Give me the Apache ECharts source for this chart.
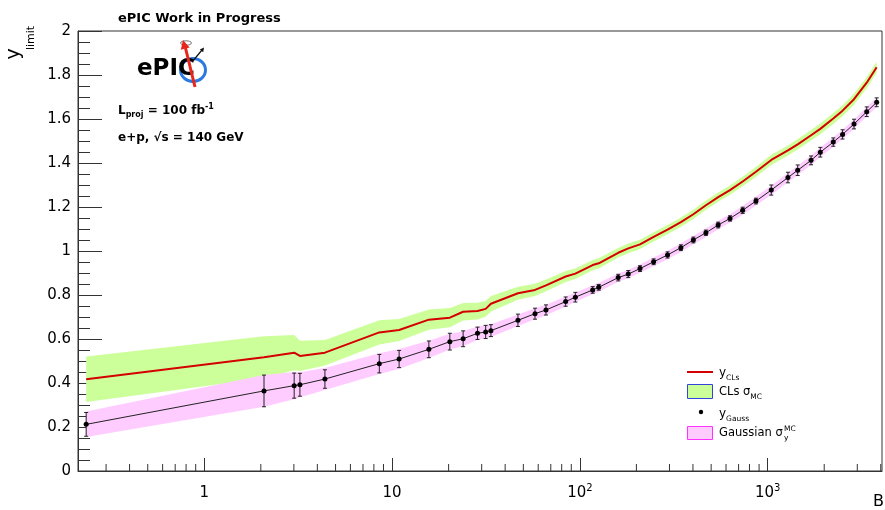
<!DOCTYPE html>
<html>
<head>
<meta charset="utf-8">
<script src="https://cdn.jsdelivr.net/npm/echarts@6/dist/echarts.min.js"></script>
<style>
  html, body { margin: 0; padding: 0; background: #fff; }
  #main { width: 885px; height: 510px; }
</style>
</head>
<body>
<div id="main"></div>
<script>
// scan points in B
var bVals = [0.235, 2.08, 3.01, 3.23, 4.39, 8.55, 10.9, 15.7, 20.3, 23.9, 28.5, 31.5, 33.6, 46.8, 57.7, 66, 84, 94.6, 117, 126,
  160, 181, 209, 247, 293, 345, 402, 469, 545, 630, 736, 866, 1045, 1282, 1445, 1702, 1906, 2235, 2505, 2882, 3368, 3805];
// y_CLs and its MC spread
var yCLs = [0.417, 0.517, 0.538, 0.523, 0.538, 0.630, 0.641, 0.688, 0.697, 0.724, 0.727, 0.737, 0.760, 0.808, 0.823, 0.844, 0.884, 0.897, 0.936, 0.944,
  0.992, 1.012, 1.030, 1.064, 1.097, 1.131, 1.167, 1.208, 1.245, 1.277, 1.316, 1.360, 1.414, 1.457, 1.485, 1.526, 1.555, 1.602, 1.638, 1.690, 1.765, 1.835];
var sigCLs = [0.103, 0.095, 0.080, 0.069, 0.058, 0.055, 0.050, 0.046, 0.044, 0.040, 0.038, 0.036, 0.035, 0.030, 0.028, 0.027, 0.025, 0.024, 0.023, 0.023,
  0.022, 0.022, 0.021, 0.021, 0.021, 0.021, 0.021, 0.021, 0.021, 0.021, 0.022, 0.022, 0.023, 0.023, 0.024, 0.024, 0.024, 0.025, 0.025, 0.025, 0.025, 0.025];
// y_Gauss points, error bars and MC spread
var yGauss = [0.212, 0.364, 0.388, 0.392, 0.418, 0.488, 0.509, 0.553, 0.588, 0.601, 0.626, 0.632, 0.638, 0.685, 0.715, 0.732, 0.770, 0.790, 0.823, 0.835,
  0.879, 0.895, 0.920, 0.951, 0.982, 1.015, 1.050, 1.083, 1.118, 1.148, 1.185, 1.227, 1.277, 1.334, 1.367, 1.412, 1.449, 1.495, 1.530, 1.577, 1.633, 1.676];
var errGauss = [0.054, 0.072, 0.057, 0.052, 0.042, 0.042, 0.039, 0.038, 0.038, 0.036, 0.028, 0.030, 0.027, 0.028, 0.025, 0.023, 0.021, 0.022, 0.015, 0.013,
  0.015, 0.016, 0.013, 0.013, 0.014, 0.013, 0.013, 0.012, 0.013, 0.012, 0.014, 0.013, 0.023, 0.024, 0.024, 0.020, 0.022, 0.019, 0.021, 0.022, 0.022, 0.020];
var sigGauss = [0.058, 0.072, 0.062, 0.057, 0.050, 0.047, 0.045, 0.039, 0.036, 0.034, 0.031, 0.030, 0.029, 0.026, 0.025, 0.024, 0.022, 0.021, 0.020, 0.020,
  0.019, 0.019, 0.019, 0.019, 0.019, 0.019, 0.019, 0.019, 0.019, 0.019, 0.020, 0.020, 0.021, 0.021, 0.021, 0.021, 0.021, 0.021, 0.021, 0.021, 0.021, 0.021];
// log axis minor ticks
var xMinorTicks = [0.3, 0.4, 0.5, 0.6, 0.7, 0.8, 0.9, 2, 3, 4, 5, 6, 7, 8, 9, 20, 30, 40, 50, 60, 70, 80, 90,
  200, 300, 400, 500, 600, 700, 800, 900, 2000, 3000, 4000];

var FONT = 'DejaVu Sans';
function rs (size, weight, va, lh) {
  var o = { fontSize: size, fontFamily: FONT, fontWeight: weight || 'normal', fill: '#000' };
  if (va) o.verticalAlign = va;
  if (lh) o.lineHeight = lh;
  return o;
}

// band between center-sigma and center+sigma, drawn as one polygon
function bandRender (center, sigma, color) {
  return function (params, api) {
    if (params.dataIndex !== 0) return null;
    var upper = [], lower = [];
    for (var i = 0; i < bVals.length; i++) {
      upper.push(api.coord([bVals[i], center[i] + sigma[i]]));
      lower.unshift(api.coord([bVals[i], center[i] - sigma[i]]));
    }
    return { type: 'polygon', shape: { points: upper.concat(lower) }, style: { fill: color } };
  };
}

var myChart = echarts.init(document.getElementById('main'));
var option = {
  animation: false,
  title: {
    text: 'ePIC Work in Progress',
    left: 113, top: 7,
    textStyle: { fontFamily: FONT, fontSize: 13, fontWeight: 'bold', color: '#000' }
  },
  grid: {
    left: 78, right: 3, top: 31, bottom: 39,
    show: true, borderColor: '#333', borderWidth: 1,
    containLabel: false, outerBoundsMode: 'none'
  },
  xAxis: {
    type: 'log', logBase: 10, min: 0.2126, max: 4062,
    axisLine: { onZero: false, lineStyle: { color: '#333', width: 1 } },
    axisTick: { inside: true, length: 13, lineStyle: { color: '#333' } },
    minorTick: { show: false },
    splitLine: { show: false },
    axisLabel: {
      margin: 12, fontFamily: FONT, fontSize: 15, lineHeight: 20, color: '#000',
      showMinLabel: false, showMaxLabel: false,
      formatter: function (v) {
        var e = Math.round(Math.log10(v));
        if (e === 0) return '1';
        if (e === 1) return '10';
        return '{b|10}{p|' + e + '}';
      },
      rich: {
        b: { fontFamily: FONT, fontSize: 15, lineHeight: 20, color: '#000' },
        p: { fontFamily: FONT, fontSize: 10, lineHeight: 10, verticalAlign: 'top', color: '#000' }
      }
    }
  },
  yAxis: {
    type: 'value', min: 0, max: 2, interval: 0.2,
    axisLine: { show: true, onZero: false, lineStyle: { color: '#333', width: 1 } },
    axisTick: { show: true, inside: true, length: 24, lineStyle: { color: '#333' } },
    minorTick: { show: true, splitNumber: 4, length: 12, lineStyle: { color: '#333' } },
    splitLine: { show: false },
    axisLabel: { margin: 7, fontFamily: FONT, fontSize: 15, color: '#000' }
  },
  series: [
    {
      name: 'CLs band', type: 'custom', z: 1, silent: true,
      data: bVals.map(function (b, i) { return [b, yCLs[i]]; }),
      encode: { x: 0, y: 1 },
      renderItem: bandRender(yCLs, sigCLs, '#ccff99')
    },
    {
      name: 'Gauss band', type: 'custom', z: 2, silent: true,
      data: bVals.map(function (b, i) { return [b, yGauss[i]]; }),
      encode: { x: 0, y: 1 },
      renderItem: bandRender(yGauss, sigGauss, '#ffccff')
    },
    {
      name: 'yGauss err', type: 'custom', z: 3, silent: true,
      data: bVals.map(function (b, i) { return [b, yGauss[i] - errGauss[i], yGauss[i] + errGauss[i]]; }),
      encode: { x: 0, y: [1, 2] },
      renderItem: function (params, api) {
        var p1 = api.coord([api.value(0), api.value(1)]);
        var p2 = api.coord([api.value(0), api.value(2)]);
        var st = { stroke: '#222', lineWidth: 1 };
        return {
          type: 'group', children: [
            { type: 'line', shape: { x1: p1[0], y1: p1[1], x2: p2[0], y2: p2[1] }, style: st },
            { type: 'line', shape: { x1: p1[0] - 2, y1: p1[1], x2: p1[0] + 2, y2: p1[1] }, style: st },
            { type: 'line', shape: { x1: p2[0] - 2, y1: p2[1], x2: p2[0] + 2, y2: p2[1] }, style: st }
          ]
        };
      }
    },
    {
      name: 'yGauss', type: 'line', z: 4,
      data: bVals.map(function (b, i) { return [b, yGauss[i]]; }),
      symbol: 'circle', symbolSize: 5, showSymbol: true,
      itemStyle: { color: '#000' },
      lineStyle: { color: '#222', width: 1 }
    },
    {
      name: 'yCLs', type: 'line', z: 5,
      data: bVals.map(function (b, i) { return [b, yCLs[i]]; }),
      symbol: 'none',
      lineStyle: { color: '#d40000', width: 2 }
    },
    {
      name: 'minor ticks', type: 'custom', z: 6, silent: true,
      data: xMinorTicks.map(function (v) { return [v, 0]; }),
      encode: { x: 0, y: 1 },
      renderItem: function (params, api) {
        var p = api.coord([api.value(0), 0]);
        return { type: 'line', shape: { x1: p[0], y1: p[1], x2: p[0], y2: p[1] - 7 }, style: { stroke: '#333', lineWidth: 1 } };
      }
    }
  ],
  graphic: [
    // axis titles
    { type: 'text', x: 14, y: 54, rotation: Math.PI / 2, style: { text: 'y', align: 'center', verticalAlign: 'middle', fontSize: 19, fontFamily: FONT, fill: '#000' } },
    { type: 'text', x: 31, y: 38, rotation: Math.PI / 2, style: { text: 'limit', align: 'center', verticalAlign: 'middle', fontSize: 11, fontFamily: FONT, fill: '#000' } },
    { type: 'text', x: 884, y: 502, style: { text: 'B', align: 'right', verticalAlign: 'middle', fontSize: 16, fontFamily: FONT, fill: '#000' } },
    // ePIC logo
    { type: 'ellipse', shape: { cx: 193, cy: 70, rx: 12.5, ry: 11.5 }, style: { fill: 'none', stroke: '#2a7ae2', lineWidth: 3 } },
    { type: 'text', x: 137, y: 69, style: { text: 'ePIC', align: 'left', verticalAlign: 'middle', fontSize: 23, fontWeight: 'bold', fontFamily: FONT, fill: '#000' } },
    { type: 'ellipse', shape: { cx: 186, cy: 43, rx: 5.5, ry: 2.2 }, style: { fill: 'none', stroke: '#777', lineWidth: 1 } },
    { type: 'line', shape: { x1: 195, y1: 87, x2: 185.5, y2: 48 }, style: { stroke: '#e8261c', lineWidth: 3 } },
    { type: 'polygon', shape: { points: [[183, 40], [189.6, 47.6], [180.8, 49.8]] }, style: { fill: '#e8261c' } },
    { type: 'line', shape: { x1: 192, y1: 62, x2: 202, y2: 50 }, style: { stroke: '#111', lineWidth: 1.2 } },
    { type: 'polygon', shape: { points: [[204, 47.5], [203.2, 52.2], [199.8, 49.4]] }, style: { fill: '#111' } },
    // luminosity / energy text
    { type: 'text', x: 118, y: 111, style: {
      text: '{b|L}{bs|proj}{b| = 100 fb}{bp|-1}', verticalAlign: 'middle',
      rich: { b: rs(12, 'bold', null, 16), bs: rs(8, 'bold', 'bottom', 8), bp: rs(8, 'bold', 'top', 8) }
    } },
    { type: 'text', x: 118, y: 138, style: {
      text: 'e+p, \u221As = 140 GeV', verticalAlign: 'middle',
      fontSize: 12, fontWeight: 'bold', fontFamily: FONT, fill: '#000'
    } },
    // legend
    { type: 'line', shape: { x1: 687, y1: 372, x2: 713, y2: 372 }, style: { stroke: '#d40000', lineWidth: 2 } },
    { type: 'text', x: 719, y: 373, style: {
      text: '{m|y}{s|CLs}', verticalAlign: 'middle',
      rich: { m: rs(12, 'normal', null, 18), s: rs(7.5, 'normal', 'bottom', 8) }
    } },
    { type: 'rect', shape: { x: 687.5, y: 384.5, width: 25, height: 14 }, style: { fill: '#ccff99', stroke: '#3344dd', lineWidth: 1 } },
    { type: 'text', x: 719, y: 392, style: {
      text: '{m|CLs \u03c3}{s|MC}', verticalAlign: 'middle',
      rich: { m: rs(11.5, 'normal', null, 18), s: rs(7.5, 'normal', 'bottom', 8) }
    } },
    { type: 'circle', shape: { cx: 701, cy: 412, r: 2.2 }, style: { fill: '#000' } },
    { type: 'text', x: 719, y: 414, style: {
      text: '{m|y}{s|Gauss}', verticalAlign: 'middle',
      rich: { m: rs(12, 'normal', null, 18), s: rs(7.5, 'normal', 'bottom', 8) }
    } },
    { type: 'rect', shape: { x: 687.5, y: 426.5, width: 25, height: 13 }, style: { fill: '#ffccff', stroke: '#ff33ff', lineWidth: 1 } },
    { type: 'text', x: 719, y: 433, style: { text: 'Gaussian \u03c3', verticalAlign: 'middle', fontSize: 11.5, fontFamily: FONT, fill: '#000' } },
    { type: 'text', x: 784, y: 429, style: { text: 'MC', verticalAlign: 'middle', fontSize: 7.5, fontFamily: FONT, fill: '#000' } },
    { type: 'text', x: 784, y: 438, style: { text: 'y', verticalAlign: 'middle', fontSize: 7.5, fontFamily: FONT, fill: '#000' } }
  ]
};
myChart.setOption(option);
</script>
</body>
</html>
